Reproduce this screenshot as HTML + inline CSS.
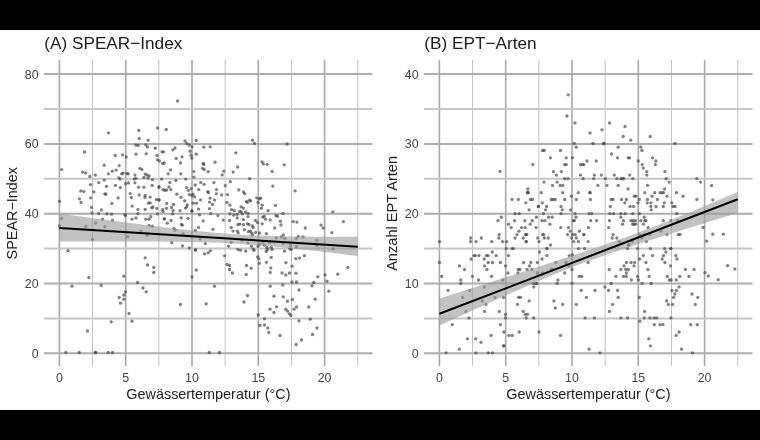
<!DOCTYPE html>
<html><head><meta charset="utf-8"><style>
html,body{margin:0;padding:0;background:#fff;}
svg{display:block;font-family:"Liberation Sans",sans-serif;}
</style></head><body>
<svg width="760" height="440" viewBox="0 0 760 440">
<rect width="760" height="440" fill="#fff"/>
<rect x="0" y="0" width="760" height="30" fill="#000"/>
<rect x="0" y="410" width="760" height="30" fill="#000"/>
<line x1="59.40" y1="60" x2="59.40" y2="366" stroke="#a8a8a8" stroke-width="1.6"/>
<line x1="92.55" y1="60" x2="92.55" y2="366" stroke="#c2c2c2" stroke-width="1.0"/>
<line x1="125.70" y1="60" x2="125.70" y2="366" stroke="#a8a8a8" stroke-width="1.6"/>
<line x1="158.85" y1="60" x2="158.85" y2="366" stroke="#c2c2c2" stroke-width="1.0"/>
<line x1="192.00" y1="60" x2="192.00" y2="366" stroke="#a8a8a8" stroke-width="1.6"/>
<line x1="225.15" y1="60" x2="225.15" y2="366" stroke="#c2c2c2" stroke-width="1.0"/>
<line x1="258.30" y1="60" x2="258.30" y2="366" stroke="#a8a8a8" stroke-width="1.6"/>
<line x1="291.45" y1="60" x2="291.45" y2="366" stroke="#c2c2c2" stroke-width="1.0"/>
<line x1="324.60" y1="60" x2="324.60" y2="366" stroke="#a8a8a8" stroke-width="1.6"/>
<line x1="357.75" y1="60" x2="357.75" y2="366" stroke="#c2c2c2" stroke-width="1.0"/>
<line x1="44" y1="353.30" x2="372.5" y2="353.30" stroke="#adadad" stroke-width="2"/>
<line x1="44" y1="283.50" x2="372.5" y2="283.50" stroke="#adadad" stroke-width="2"/>
<line x1="44" y1="213.70" x2="372.5" y2="213.70" stroke="#adadad" stroke-width="2"/>
<line x1="44" y1="143.90" x2="372.5" y2="143.90" stroke="#adadad" stroke-width="2"/>
<line x1="44" y1="74.10" x2="372.5" y2="74.10" stroke="#adadad" stroke-width="2"/>
<line x1="44" y1="318.40" x2="372.5" y2="318.40" stroke="#c6c6c6" stroke-width="2"/>
<line x1="44" y1="248.60" x2="372.5" y2="248.60" stroke="#c6c6c6" stroke-width="2"/>
<line x1="44" y1="178.80" x2="372.5" y2="178.80" stroke="#c6c6c6" stroke-width="2"/>
<line x1="44" y1="109.00" x2="372.5" y2="109.00" stroke="#c6c6c6" stroke-width="2"/>
<line x1="439.40" y1="60" x2="439.40" y2="366" stroke="#a8a8a8" stroke-width="1.6"/>
<line x1="472.55" y1="60" x2="472.55" y2="366" stroke="#c2c2c2" stroke-width="1.0"/>
<line x1="505.70" y1="60" x2="505.70" y2="366" stroke="#a8a8a8" stroke-width="1.6"/>
<line x1="538.85" y1="60" x2="538.85" y2="366" stroke="#c2c2c2" stroke-width="1.0"/>
<line x1="572.00" y1="60" x2="572.00" y2="366" stroke="#a8a8a8" stroke-width="1.6"/>
<line x1="605.15" y1="60" x2="605.15" y2="366" stroke="#c2c2c2" stroke-width="1.0"/>
<line x1="638.30" y1="60" x2="638.30" y2="366" stroke="#a8a8a8" stroke-width="1.6"/>
<line x1="671.45" y1="60" x2="671.45" y2="366" stroke="#c2c2c2" stroke-width="1.0"/>
<line x1="704.60" y1="60" x2="704.60" y2="366" stroke="#a8a8a8" stroke-width="1.6"/>
<line x1="737.75" y1="60" x2="737.75" y2="366" stroke="#c2c2c2" stroke-width="1.0"/>
<line x1="424" y1="353.30" x2="752.5" y2="353.30" stroke="#adadad" stroke-width="2"/>
<line x1="424" y1="283.50" x2="752.5" y2="283.50" stroke="#adadad" stroke-width="2"/>
<line x1="424" y1="213.70" x2="752.5" y2="213.70" stroke="#adadad" stroke-width="2"/>
<line x1="424" y1="143.90" x2="752.5" y2="143.90" stroke="#adadad" stroke-width="2"/>
<line x1="424" y1="74.10" x2="752.5" y2="74.10" stroke="#adadad" stroke-width="2"/>
<line x1="424" y1="318.40" x2="752.5" y2="318.40" stroke="#c6c6c6" stroke-width="2"/>
<line x1="424" y1="248.60" x2="752.5" y2="248.60" stroke="#c6c6c6" stroke-width="2"/>
<line x1="424" y1="178.80" x2="752.5" y2="178.80" stroke="#c6c6c6" stroke-width="2"/>
<line x1="424" y1="109.00" x2="752.5" y2="109.00" stroke="#c6c6c6" stroke-width="2"/>
<g fill="#454545" fill-opacity="0.68">
<circle cx="61.7" cy="169.6" r="1.65"/>
<circle cx="82.6" cy="172.1" r="1.65"/>
<circle cx="85.7" cy="172.9" r="1.65"/>
<circle cx="89.8" cy="176.4" r="1.65"/>
<circle cx="95.3" cy="175.1" r="1.65"/>
<circle cx="104.2" cy="165.2" r="1.65"/>
<circle cx="119.2" cy="165.6" r="1.65"/>
<circle cx="112.3" cy="171.2" r="1.65"/>
<circle cx="116.2" cy="170.1" r="1.65"/>
<circle cx="108.4" cy="173.8" r="1.65"/>
<circle cx="121.7" cy="173.8" r="1.65"/>
<circle cx="123.0" cy="173.2" r="1.65"/>
<circle cx="127.0" cy="173.6" r="1.65"/>
<circle cx="128.3" cy="173.8" r="1.65"/>
<circle cx="134.9" cy="175.1" r="1.65"/>
<circle cx="118.8" cy="177.8" r="1.65"/>
<circle cx="120.1" cy="179.1" r="1.65"/>
<circle cx="134.2" cy="179.1" r="1.65"/>
<circle cx="135.9" cy="178.4" r="1.65"/>
<circle cx="98.8" cy="182.6" r="1.65"/>
<circle cx="104.2" cy="180.1" r="1.65"/>
<circle cx="90.5" cy="184.6" r="1.65"/>
<circle cx="106.5" cy="186.3" r="1.65"/>
<circle cx="115.4" cy="185.4" r="1.65"/>
<circle cx="120.4" cy="187.6" r="1.65"/>
<circle cx="125.6" cy="183.7" r="1.65"/>
<circle cx="128.5" cy="183.0" r="1.65"/>
<circle cx="134.9" cy="182.8" r="1.65"/>
<circle cx="80.8" cy="190.9" r="1.65"/>
<circle cx="83.9" cy="191.6" r="1.65"/>
<circle cx="93.8" cy="191.9" r="1.65"/>
<circle cx="104.8" cy="193.8" r="1.65"/>
<circle cx="105.9" cy="194.2" r="1.65"/>
<circle cx="130.2" cy="193.6" r="1.65"/>
<circle cx="79.5" cy="198.8" r="1.65"/>
<circle cx="81.1" cy="202.5" r="1.65"/>
<circle cx="90.7" cy="197.8" r="1.65"/>
<circle cx="118.1" cy="197.9" r="1.65"/>
<circle cx="131.3" cy="197.5" r="1.65"/>
<circle cx="59.5" cy="201.2" r="1.65"/>
<circle cx="111.8" cy="203.4" r="1.65"/>
<circle cx="91.4" cy="207.4" r="1.65"/>
<circle cx="101.3" cy="210.0" r="1.65"/>
<circle cx="132.2" cy="206.1" r="1.65"/>
<circle cx="162.6" cy="163.5" r="1.65"/>
<circle cx="164.3" cy="163.0" r="1.65"/>
<circle cx="180.5" cy="163.0" r="1.65"/>
<circle cx="203.2" cy="163.5" r="1.65"/>
<circle cx="203.8" cy="164.3" r="1.65"/>
<circle cx="215.0" cy="162.2" r="1.65"/>
<circle cx="139.9" cy="168.3" r="1.65"/>
<circle cx="141.9" cy="169.6" r="1.65"/>
<circle cx="170.5" cy="169.9" r="1.65"/>
<circle cx="168.2" cy="173.8" r="1.65"/>
<circle cx="180.8" cy="173.8" r="1.65"/>
<circle cx="193.9" cy="171.6" r="1.65"/>
<circle cx="202.5" cy="168.3" r="1.65"/>
<circle cx="204.2" cy="169.6" r="1.65"/>
<circle cx="208.2" cy="171.6" r="1.65"/>
<circle cx="223.8" cy="171.2" r="1.65"/>
<circle cx="222.2" cy="174.9" r="1.65"/>
<circle cx="145.2" cy="174.1" r="1.65"/>
<circle cx="146.9" cy="174.9" r="1.65"/>
<circle cx="149.1" cy="175.8" r="1.65"/>
<circle cx="148.1" cy="178.0" r="1.65"/>
<circle cx="143.9" cy="177.5" r="1.65"/>
<circle cx="152.4" cy="179.7" r="1.65"/>
<circle cx="161.6" cy="179.1" r="1.65"/>
<circle cx="175.9" cy="180.4" r="1.65"/>
<circle cx="185.8" cy="179.1" r="1.65"/>
<circle cx="193.9" cy="177.1" r="1.65"/>
<circle cx="169.9" cy="182.4" r="1.65"/>
<circle cx="200.8" cy="182.4" r="1.65"/>
<circle cx="204.1" cy="184.3" r="1.65"/>
<circle cx="213.9" cy="182.6" r="1.65"/>
<circle cx="195.2" cy="185.0" r="1.65"/>
<circle cx="225.3" cy="185.7" r="1.65"/>
<circle cx="138.6" cy="187.2" r="1.65"/>
<circle cx="143.9" cy="187.2" r="1.65"/>
<circle cx="152.2" cy="185.4" r="1.65"/>
<circle cx="159.0" cy="187.0" r="1.65"/>
<circle cx="163.0" cy="189.6" r="1.65"/>
<circle cx="164.7" cy="190.3" r="1.65"/>
<circle cx="166.5" cy="190.0" r="1.65"/>
<circle cx="170.9" cy="189.6" r="1.65"/>
<circle cx="168.9" cy="187.0" r="1.65"/>
<circle cx="186.7" cy="187.6" r="1.65"/>
<circle cx="188.4" cy="190.3" r="1.65"/>
<circle cx="191.3" cy="188.6" r="1.65"/>
<circle cx="198.8" cy="189.6" r="1.65"/>
<circle cx="207.8" cy="191.6" r="1.65"/>
<circle cx="208.4" cy="192.5" r="1.65"/>
<circle cx="216.6" cy="189.6" r="1.65"/>
<circle cx="139.2" cy="194.9" r="1.65"/>
<circle cx="145.2" cy="195.3" r="1.65"/>
<circle cx="144.9" cy="197.5" r="1.65"/>
<circle cx="150.2" cy="197.1" r="1.65"/>
<circle cx="176.8" cy="194.2" r="1.65"/>
<circle cx="181.0" cy="197.3" r="1.65"/>
<circle cx="189.3" cy="194.6" r="1.65"/>
<circle cx="191.9" cy="195.6" r="1.65"/>
<circle cx="192.9" cy="194.2" r="1.65"/>
<circle cx="194.6" cy="196.9" r="1.65"/>
<circle cx="216.3" cy="193.8" r="1.65"/>
<circle cx="221.6" cy="194.9" r="1.65"/>
<circle cx="227.5" cy="194.6" r="1.65"/>
<circle cx="156.4" cy="199.5" r="1.65"/>
<circle cx="159.0" cy="199.9" r="1.65"/>
<circle cx="184.7" cy="200.8" r="1.65"/>
<circle cx="200.5" cy="199.9" r="1.65"/>
<circle cx="210.1" cy="198.2" r="1.65"/>
<circle cx="214.6" cy="199.9" r="1.65"/>
<circle cx="148.5" cy="203.2" r="1.65"/>
<circle cx="150.2" cy="202.8" r="1.65"/>
<circle cx="166.7" cy="203.4" r="1.65"/>
<circle cx="173.5" cy="204.5" r="1.65"/>
<circle cx="193.3" cy="203.2" r="1.65"/>
<circle cx="196.6" cy="203.2" r="1.65"/>
<circle cx="209.5" cy="202.1" r="1.65"/>
<circle cx="212.4" cy="204.4" r="1.65"/>
<circle cx="226.9" cy="202.5" r="1.65"/>
<circle cx="151.8" cy="207.8" r="1.65"/>
<circle cx="152.8" cy="207.0" r="1.65"/>
<circle cx="137.9" cy="209.4" r="1.65"/>
<circle cx="145.2" cy="209.4" r="1.65"/>
<circle cx="156.8" cy="208.5" r="1.65"/>
<circle cx="162.6" cy="209.4" r="1.65"/>
<circle cx="163.0" cy="211.4" r="1.65"/>
<circle cx="166.5" cy="208.3" r="1.65"/>
<circle cx="171.5" cy="207.4" r="1.65"/>
<circle cx="173.1" cy="210.7" r="1.65"/>
<circle cx="180.1" cy="210.7" r="1.65"/>
<circle cx="185.4" cy="208.1" r="1.65"/>
<circle cx="186.7" cy="206.8" r="1.65"/>
<circle cx="187.3" cy="204.8" r="1.65"/>
<circle cx="191.9" cy="211.0" r="1.65"/>
<circle cx="198.5" cy="209.1" r="1.65"/>
<circle cx="209.5" cy="208.7" r="1.65"/>
<circle cx="92.0" cy="213.0" r="1.65"/>
<circle cx="98.6" cy="213.5" r="1.65"/>
<circle cx="106.9" cy="213.9" r="1.65"/>
<circle cx="111.5" cy="214.2" r="1.65"/>
<circle cx="125.0" cy="214.6" r="1.65"/>
<circle cx="125.4" cy="215.6" r="1.65"/>
<circle cx="61.7" cy="218.3" r="1.65"/>
<circle cx="102.6" cy="219.2" r="1.65"/>
<circle cx="112.5" cy="220.1" r="1.65"/>
<circle cx="95.7" cy="222.9" r="1.65"/>
<circle cx="85.8" cy="226.4" r="1.65"/>
<circle cx="104.8" cy="226.7" r="1.65"/>
<circle cx="59.5" cy="225.8" r="1.65"/>
<circle cx="132.0" cy="219.2" r="1.65"/>
<circle cx="135.9" cy="217.9" r="1.65"/>
<circle cx="92.4" cy="239.4" r="1.65"/>
<circle cx="127.6" cy="236.7" r="1.65"/>
<circle cx="68.1" cy="250.6" r="1.65"/>
<circle cx="137.9" cy="213.7" r="1.65"/>
<circle cx="157.4" cy="213.9" r="1.65"/>
<circle cx="172.6" cy="213.9" r="1.65"/>
<circle cx="199.5" cy="214.8" r="1.65"/>
<circle cx="210.7" cy="213.7" r="1.65"/>
<circle cx="217.9" cy="215.6" r="1.65"/>
<circle cx="145.8" cy="219.2" r="1.65"/>
<circle cx="148.9" cy="219.2" r="1.65"/>
<circle cx="150.8" cy="216.6" r="1.65"/>
<circle cx="164.3" cy="218.8" r="1.65"/>
<circle cx="171.0" cy="220.5" r="1.65"/>
<circle cx="167.3" cy="223.2" r="1.65"/>
<circle cx="181.1" cy="217.9" r="1.65"/>
<circle cx="188.0" cy="218.3" r="1.65"/>
<circle cx="203.2" cy="220.9" r="1.65"/>
<circle cx="223.3" cy="220.1" r="1.65"/>
<circle cx="149.1" cy="225.4" r="1.65"/>
<circle cx="152.4" cy="226.2" r="1.65"/>
<circle cx="181.4" cy="224.5" r="1.65"/>
<circle cx="182.3" cy="225.1" r="1.65"/>
<circle cx="198.5" cy="227.4" r="1.65"/>
<circle cx="213.0" cy="229.3" r="1.65"/>
<circle cx="173.9" cy="228.4" r="1.65"/>
<circle cx="175.2" cy="230.1" r="1.65"/>
<circle cx="141.0" cy="231.1" r="1.65"/>
<circle cx="147.2" cy="235.4" r="1.65"/>
<circle cx="183.1" cy="233.7" r="1.65"/>
<circle cx="195.2" cy="230.4" r="1.65"/>
<circle cx="200.2" cy="239.0" r="1.65"/>
<circle cx="171.8" cy="242.7" r="1.65"/>
<circle cx="182.5" cy="245.9" r="1.65"/>
<circle cx="189.3" cy="247.9" r="1.65"/>
<circle cx="195.5" cy="249.9" r="1.65"/>
<circle cx="205.4" cy="243.6" r="1.65"/>
<circle cx="204.5" cy="253.8" r="1.65"/>
<circle cx="208.2" cy="252.8" r="1.65"/>
<circle cx="210.4" cy="250.8" r="1.65"/>
<circle cx="224.6" cy="255.8" r="1.65"/>
<circle cx="145.2" cy="257.8" r="1.65"/>
<circle cx="263.3" cy="163.9" r="1.65"/>
<circle cx="267.1" cy="164.3" r="1.65"/>
<circle cx="284.2" cy="164.8" r="1.65"/>
<circle cx="237.6" cy="167.0" r="1.65"/>
<circle cx="233.2" cy="172.1" r="1.65"/>
<circle cx="272.2" cy="171.4" r="1.65"/>
<circle cx="249.7" cy="178.7" r="1.65"/>
<circle cx="230.3" cy="181.7" r="1.65"/>
<circle cx="272.8" cy="186.1" r="1.65"/>
<circle cx="295.1" cy="190.9" r="1.65"/>
<circle cx="238.8" cy="189.9" r="1.65"/>
<circle cx="243.5" cy="192.0" r="1.65"/>
<circle cx="244.7" cy="193.6" r="1.65"/>
<circle cx="256.7" cy="197.8" r="1.65"/>
<circle cx="259.3" cy="198.8" r="1.65"/>
<circle cx="260.6" cy="198.2" r="1.65"/>
<circle cx="258.0" cy="202.5" r="1.65"/>
<circle cx="246.4" cy="201.5" r="1.65"/>
<circle cx="247.4" cy="202.3" r="1.65"/>
<circle cx="249.7" cy="200.2" r="1.65"/>
<circle cx="250.6" cy="200.8" r="1.65"/>
<circle cx="229.9" cy="205.2" r="1.65"/>
<circle cx="262.2" cy="205.2" r="1.65"/>
<circle cx="261.3" cy="208.3" r="1.65"/>
<circle cx="275.4" cy="205.4" r="1.65"/>
<circle cx="241.1" cy="206.8" r="1.65"/>
<circle cx="243.5" cy="208.1" r="1.65"/>
<circle cx="231.6" cy="209.7" r="1.65"/>
<circle cx="234.3" cy="210.7" r="1.65"/>
<circle cx="239.6" cy="211.4" r="1.65"/>
<circle cx="241.1" cy="211.8" r="1.65"/>
<circle cx="245.5" cy="211.8" r="1.65"/>
<circle cx="268.1" cy="210.7" r="1.65"/>
<circle cx="332.9" cy="211.8" r="1.65"/>
<circle cx="229.9" cy="213.9" r="1.65"/>
<circle cx="233.9" cy="215.2" r="1.65"/>
<circle cx="237.2" cy="214.3" r="1.65"/>
<circle cx="242.4" cy="213.9" r="1.65"/>
<circle cx="248.1" cy="213.3" r="1.65"/>
<circle cx="283.0" cy="213.5" r="1.65"/>
<circle cx="237.2" cy="217.9" r="1.65"/>
<circle cx="248.0" cy="216.6" r="1.65"/>
<circle cx="262.9" cy="217.2" r="1.65"/>
<circle cx="264.2" cy="216.2" r="1.65"/>
<circle cx="265.5" cy="219.2" r="1.65"/>
<circle cx="270.1" cy="219.9" r="1.65"/>
<circle cx="276.0" cy="215.6" r="1.65"/>
<circle cx="277.4" cy="216.2" r="1.65"/>
<circle cx="229.5" cy="220.5" r="1.65"/>
<circle cx="243.5" cy="219.6" r="1.65"/>
<circle cx="255.4" cy="220.5" r="1.65"/>
<circle cx="257.6" cy="222.5" r="1.65"/>
<circle cx="280.4" cy="221.2" r="1.65"/>
<circle cx="280.9" cy="224.9" r="1.65"/>
<circle cx="293.2" cy="221.6" r="1.65"/>
<circle cx="296.9" cy="222.1" r="1.65"/>
<circle cx="237.8" cy="224.5" r="1.65"/>
<circle cx="239.8" cy="224.2" r="1.65"/>
<circle cx="243.5" cy="224.7" r="1.65"/>
<circle cx="247.4" cy="223.8" r="1.65"/>
<circle cx="249.0" cy="224.5" r="1.65"/>
<circle cx="252.3" cy="225.8" r="1.65"/>
<circle cx="253.2" cy="227.5" r="1.65"/>
<circle cx="262.2" cy="223.8" r="1.65"/>
<circle cx="274.7" cy="228.0" r="1.65"/>
<circle cx="305.3" cy="228.0" r="1.65"/>
<circle cx="231.2" cy="227.5" r="1.65"/>
<circle cx="233.0" cy="231.1" r="1.65"/>
<circle cx="237.2" cy="231.1" r="1.65"/>
<circle cx="238.2" cy="232.8" r="1.65"/>
<circle cx="244.4" cy="229.7" r="1.65"/>
<circle cx="248.4" cy="231.7" r="1.65"/>
<circle cx="250.3" cy="231.1" r="1.65"/>
<circle cx="251.7" cy="233.0" r="1.65"/>
<circle cx="252.3" cy="235.0" r="1.65"/>
<circle cx="255.6" cy="232.4" r="1.65"/>
<circle cx="259.6" cy="233.0" r="1.65"/>
<circle cx="266.4" cy="233.7" r="1.65"/>
<circle cx="283.3" cy="235.0" r="1.65"/>
<circle cx="281.3" cy="237.0" r="1.65"/>
<circle cx="284.9" cy="238.6" r="1.65"/>
<circle cx="276.4" cy="238.0" r="1.65"/>
<circle cx="296.2" cy="238.6" r="1.65"/>
<circle cx="298.4" cy="236.3" r="1.65"/>
<circle cx="303.1" cy="237.0" r="1.65"/>
<circle cx="241.8" cy="240.3" r="1.65"/>
<circle cx="231.2" cy="242.3" r="1.65"/>
<circle cx="248.0" cy="242.9" r="1.65"/>
<circle cx="262.9" cy="242.0" r="1.65"/>
<circle cx="264.2" cy="245.2" r="1.65"/>
<circle cx="269.4" cy="242.5" r="1.65"/>
<circle cx="259.6" cy="244.2" r="1.65"/>
<circle cx="258.0" cy="246.2" r="1.65"/>
<circle cx="283.0" cy="243.3" r="1.65"/>
<circle cx="290.5" cy="245.6" r="1.65"/>
<circle cx="296.5" cy="246.5" r="1.65"/>
<circle cx="316.9" cy="240.3" r="1.65"/>
<circle cx="316.9" cy="245.6" r="1.65"/>
<circle cx="228.6" cy="246.2" r="1.65"/>
<circle cx="237.8" cy="249.5" r="1.65"/>
<circle cx="240.5" cy="250.2" r="1.65"/>
<circle cx="245.7" cy="251.2" r="1.65"/>
<circle cx="251.4" cy="246.2" r="1.65"/>
<circle cx="253.2" cy="249.1" r="1.65"/>
<circle cx="254.0" cy="250.4" r="1.65"/>
<circle cx="266.8" cy="247.5" r="1.65"/>
<circle cx="267.5" cy="249.5" r="1.65"/>
<circle cx="271.2" cy="247.3" r="1.65"/>
<circle cx="272.1" cy="249.5" r="1.65"/>
<circle cx="266.2" cy="251.5" r="1.65"/>
<circle cx="284.6" cy="251.2" r="1.65"/>
<circle cx="289.9" cy="248.8" r="1.65"/>
<circle cx="291.2" cy="249.5" r="1.65"/>
<circle cx="257.6" cy="256.8" r="1.65"/>
<circle cx="258.9" cy="258.7" r="1.65"/>
<circle cx="271.2" cy="257.4" r="1.65"/>
<circle cx="295.8" cy="258.7" r="1.65"/>
<circle cx="299.5" cy="258.1" r="1.65"/>
<circle cx="304.4" cy="255.7" r="1.65"/>
<circle cx="259.3" cy="263.3" r="1.65"/>
<circle cx="266.4" cy="262.3" r="1.65"/>
<circle cx="285.9" cy="262.7" r="1.65"/>
<circle cx="343.4" cy="221.6" r="1.65"/>
<circle cx="321.0" cy="225.1" r="1.65"/>
<circle cx="323.2" cy="228.0" r="1.65"/>
<circle cx="331.8" cy="232.6" r="1.65"/>
<circle cx="332.9" cy="248.8" r="1.65"/>
<circle cx="177.5" cy="101.0" r="1.65"/>
<circle cx="108.5" cy="132.8" r="1.65"/>
<circle cx="138.8" cy="130.5" r="1.65"/>
<circle cx="157.5" cy="128.0" r="1.65"/>
<circle cx="166.2" cy="129.5" r="1.65"/>
<circle cx="139.2" cy="138.5" r="1.65"/>
<circle cx="148.2" cy="140.2" r="1.65"/>
<circle cx="185.0" cy="141.0" r="1.65"/>
<circle cx="196.2" cy="140.5" r="1.65"/>
<circle cx="186.8" cy="143.5" r="1.65"/>
<circle cx="189.2" cy="145.0" r="1.65"/>
<circle cx="135.8" cy="145.0" r="1.65"/>
<circle cx="138.2" cy="145.5" r="1.65"/>
<circle cx="145.8" cy="144.8" r="1.65"/>
<circle cx="147.5" cy="147.0" r="1.65"/>
<circle cx="155.2" cy="148.2" r="1.65"/>
<circle cx="162.0" cy="151.8" r="1.65"/>
<circle cx="163.5" cy="151.8" r="1.65"/>
<circle cx="172.8" cy="149.8" r="1.65"/>
<circle cx="175.0" cy="148.0" r="1.65"/>
<circle cx="192.0" cy="146.8" r="1.65"/>
<circle cx="203.8" cy="147.2" r="1.65"/>
<circle cx="210.2" cy="146.8" r="1.65"/>
<circle cx="84.5" cy="152.0" r="1.65"/>
<circle cx="115.2" cy="155.5" r="1.65"/>
<circle cx="122.5" cy="154.8" r="1.65"/>
<circle cx="126.2" cy="157.0" r="1.65"/>
<circle cx="136.0" cy="154.2" r="1.65"/>
<circle cx="146.2" cy="153.8" r="1.65"/>
<circle cx="157.0" cy="155.5" r="1.65"/>
<circle cx="157.5" cy="159.8" r="1.65"/>
<circle cx="159.5" cy="161.0" r="1.65"/>
<circle cx="176.2" cy="158.5" r="1.65"/>
<circle cx="182.0" cy="156.8" r="1.65"/>
<circle cx="190.0" cy="151.2" r="1.65"/>
<circle cx="191.0" cy="155.2" r="1.65"/>
<circle cx="191.8" cy="158.0" r="1.65"/>
<circle cx="196.2" cy="154.2" r="1.65"/>
<circle cx="252.5" cy="140.2" r="1.65"/>
<circle cx="254.5" cy="143.5" r="1.65"/>
<circle cx="287.0" cy="144.0" r="1.65"/>
<circle cx="235.8" cy="152.8" r="1.65"/>
<circle cx="262.0" cy="161.8" r="1.65"/>
<circle cx="147.5" cy="265.0" r="1.65"/>
<circle cx="153.8" cy="267.5" r="1.65"/>
<circle cx="153.8" cy="272.5" r="1.65"/>
<circle cx="196.2" cy="270.0" r="1.65"/>
<circle cx="192.0" cy="276.8" r="1.65"/>
<circle cx="88.8" cy="277.5" r="1.65"/>
<circle cx="123.8" cy="276.2" r="1.65"/>
<circle cx="72.0" cy="286.2" r="1.65"/>
<circle cx="101.2" cy="285.5" r="1.65"/>
<circle cx="137.5" cy="282.5" r="1.65"/>
<circle cx="143.0" cy="288.0" r="1.65"/>
<circle cx="146.2" cy="291.8" r="1.65"/>
<circle cx="125.5" cy="291.8" r="1.65"/>
<circle cx="123.8" cy="295.0" r="1.65"/>
<circle cx="119.2" cy="297.5" r="1.65"/>
<circle cx="123.8" cy="299.2" r="1.65"/>
<circle cx="120.5" cy="303.2" r="1.65"/>
<circle cx="214.5" cy="286.2" r="1.65"/>
<circle cx="180.5" cy="304.5" r="1.65"/>
<circle cx="206.2" cy="303.8" r="1.65"/>
<circle cx="129.0" cy="313.5" r="1.65"/>
<circle cx="132.0" cy="321.2" r="1.65"/>
<circle cx="111.2" cy="321.8" r="1.65"/>
<circle cx="87.5" cy="331.0" r="1.65"/>
<circle cx="65.8" cy="352.5" r="1.65"/>
<circle cx="79.2" cy="352.5" r="1.65"/>
<circle cx="95.5" cy="352.5" r="1.65"/>
<circle cx="108.2" cy="352.5" r="1.65"/>
<circle cx="112.5" cy="352.5" r="1.65"/>
<circle cx="209.2" cy="352.5" r="1.65"/>
<circle cx="219.5" cy="352.5" r="1.65"/>
<circle cx="227.0" cy="264.5" r="1.65"/>
<circle cx="229.5" cy="265.5" r="1.65"/>
<circle cx="229.5" cy="269.5" r="1.65"/>
<circle cx="232.5" cy="273.0" r="1.65"/>
<circle cx="246.5" cy="265.5" r="1.65"/>
<circle cx="251.2" cy="268.2" r="1.65"/>
<circle cx="246.2" cy="274.5" r="1.65"/>
<circle cx="270.8" cy="268.0" r="1.65"/>
<circle cx="270.2" cy="272.5" r="1.65"/>
<circle cx="292.0" cy="266.2" r="1.65"/>
<circle cx="282.0" cy="273.0" r="1.65"/>
<circle cx="285.8" cy="275.0" r="1.65"/>
<circle cx="289.5" cy="273.0" r="1.65"/>
<circle cx="296.0" cy="273.2" r="1.65"/>
<circle cx="317.8" cy="276.8" r="1.65"/>
<circle cx="325.0" cy="275.0" r="1.65"/>
<circle cx="337.8" cy="274.2" r="1.65"/>
<circle cx="347.8" cy="267.5" r="1.65"/>
<circle cx="292.0" cy="282.0" r="1.65"/>
<circle cx="296.5" cy="282.0" r="1.65"/>
<circle cx="313.8" cy="282.5" r="1.65"/>
<circle cx="327.0" cy="281.2" r="1.65"/>
<circle cx="270.2" cy="286.2" r="1.65"/>
<circle cx="282.8" cy="285.0" r="1.65"/>
<circle cx="312.0" cy="285.8" r="1.65"/>
<circle cx="299.0" cy="290.0" r="1.65"/>
<circle cx="328.8" cy="291.2" r="1.65"/>
<circle cx="247.5" cy="295.5" r="1.65"/>
<circle cx="244.0" cy="302.0" r="1.65"/>
<circle cx="274.0" cy="296.2" r="1.65"/>
<circle cx="283.2" cy="296.8" r="1.65"/>
<circle cx="287.5" cy="301.2" r="1.65"/>
<circle cx="292.5" cy="299.5" r="1.65"/>
<circle cx="315.2" cy="299.2" r="1.65"/>
<circle cx="276.5" cy="306.8" r="1.65"/>
<circle cx="270.0" cy="309.2" r="1.65"/>
<circle cx="274.0" cy="312.5" r="1.65"/>
<circle cx="285.8" cy="309.2" r="1.65"/>
<circle cx="287.5" cy="311.2" r="1.65"/>
<circle cx="289.5" cy="313.8" r="1.65"/>
<circle cx="290.8" cy="315.5" r="1.65"/>
<circle cx="294.0" cy="309.2" r="1.65"/>
<circle cx="296.5" cy="307.0" r="1.65"/>
<circle cx="308.8" cy="307.0" r="1.65"/>
<circle cx="258.2" cy="315.0" r="1.65"/>
<circle cx="264.5" cy="318.8" r="1.65"/>
<circle cx="260.0" cy="325.5" r="1.65"/>
<circle cx="264.5" cy="325.0" r="1.65"/>
<circle cx="267.8" cy="328.0" r="1.65"/>
<circle cx="268.8" cy="332.5" r="1.65"/>
<circle cx="299.0" cy="320.8" r="1.65"/>
<circle cx="310.2" cy="319.2" r="1.65"/>
<circle cx="317.0" cy="328.0" r="1.65"/>
<circle cx="312.5" cy="334.5" r="1.65"/>
<circle cx="280.0" cy="335.5" r="1.65"/>
<circle cx="301.5" cy="340.0" r="1.65"/>
<circle cx="296.2" cy="344.5" r="1.65"/>
<circle cx="500.0" cy="171.4" r="1.65"/>
<circle cx="512.0" cy="199.5" r="1.65"/>
<circle cx="532.8" cy="164.6" r="1.65"/>
<circle cx="564.7" cy="164.6" r="1.65"/>
<circle cx="566.3" cy="164.6" r="1.65"/>
<circle cx="580.5" cy="164.6" r="1.65"/>
<circle cx="582.5" cy="164.6" r="1.65"/>
<circle cx="583.8" cy="164.6" r="1.65"/>
<circle cx="553.5" cy="171.6" r="1.65"/>
<circle cx="561.4" cy="171.6" r="1.65"/>
<circle cx="556.4" cy="175.1" r="1.65"/>
<circle cx="580.5" cy="175.1" r="1.65"/>
<circle cx="594.4" cy="175.1" r="1.65"/>
<circle cx="601.3" cy="175.1" r="1.65"/>
<circle cx="564.7" cy="178.7" r="1.65"/>
<circle cx="568.0" cy="178.7" r="1.65"/>
<circle cx="583.1" cy="178.7" r="1.65"/>
<circle cx="593.7" cy="178.7" r="1.65"/>
<circle cx="605.3" cy="178.7" r="1.65"/>
<circle cx="544.0" cy="182.1" r="1.65"/>
<circle cx="557.1" cy="182.1" r="1.65"/>
<circle cx="552.6" cy="185.4" r="1.65"/>
<circle cx="560.1" cy="185.4" r="1.65"/>
<circle cx="562.7" cy="185.4" r="1.65"/>
<circle cx="597.9" cy="185.4" r="1.65"/>
<circle cx="606.9" cy="185.4" r="1.65"/>
<circle cx="527.8" cy="189.0" r="1.65"/>
<circle cx="527.5" cy="192.7" r="1.65"/>
<circle cx="528.5" cy="192.7" r="1.65"/>
<circle cx="541.2" cy="192.7" r="1.65"/>
<circle cx="562.7" cy="192.7" r="1.65"/>
<circle cx="578.3" cy="192.7" r="1.65"/>
<circle cx="590.0" cy="192.7" r="1.65"/>
<circle cx="571.3" cy="196.2" r="1.65"/>
<circle cx="518.3" cy="199.5" r="1.65"/>
<circle cx="530.5" cy="199.5" r="1.65"/>
<circle cx="532.4" cy="199.5" r="1.65"/>
<circle cx="551.3" cy="199.5" r="1.65"/>
<circle cx="552.8" cy="199.5" r="1.65"/>
<circle cx="555.2" cy="199.5" r="1.65"/>
<circle cx="564.7" cy="199.5" r="1.65"/>
<circle cx="576.3" cy="199.5" r="1.65"/>
<circle cx="590.4" cy="199.5" r="1.65"/>
<circle cx="525.8" cy="202.8" r="1.65"/>
<circle cx="542.3" cy="202.8" r="1.65"/>
<circle cx="538.4" cy="206.5" r="1.65"/>
<circle cx="546.5" cy="206.5" r="1.65"/>
<circle cx="561.0" cy="206.5" r="1.65"/>
<circle cx="529.1" cy="209.8" r="1.65"/>
<circle cx="545.6" cy="209.8" r="1.65"/>
<circle cx="562.3" cy="209.8" r="1.65"/>
<circle cx="570.6" cy="209.8" r="1.65"/>
<circle cx="642.2" cy="164.6" r="1.65"/>
<circle cx="655.4" cy="164.6" r="1.65"/>
<circle cx="643.3" cy="168.1" r="1.65"/>
<circle cx="646.8" cy="171.6" r="1.65"/>
<circle cx="664.9" cy="171.6" r="1.65"/>
<circle cx="614.3" cy="175.1" r="1.65"/>
<circle cx="629.7" cy="175.1" r="1.65"/>
<circle cx="646.8" cy="175.1" r="1.65"/>
<circle cx="616.9" cy="178.7" r="1.65"/>
<circle cx="620.9" cy="178.7" r="1.65"/>
<circle cx="622.5" cy="178.7" r="1.65"/>
<circle cx="623.8" cy="178.7" r="1.65"/>
<circle cx="632.7" cy="178.7" r="1.65"/>
<circle cx="666.2" cy="178.7" r="1.65"/>
<circle cx="696.9" cy="178.7" r="1.65"/>
<circle cx="669.2" cy="182.1" r="1.65"/>
<circle cx="618.2" cy="185.4" r="1.65"/>
<circle cx="647.5" cy="185.4" r="1.65"/>
<circle cx="628.1" cy="189.0" r="1.65"/>
<circle cx="664.6" cy="189.0" r="1.65"/>
<circle cx="644.8" cy="192.7" r="1.65"/>
<circle cx="654.7" cy="192.7" r="1.65"/>
<circle cx="660.0" cy="192.7" r="1.65"/>
<circle cx="662.0" cy="192.7" r="1.65"/>
<circle cx="663.5" cy="192.7" r="1.65"/>
<circle cx="676.5" cy="192.7" r="1.65"/>
<circle cx="634.3" cy="196.2" r="1.65"/>
<circle cx="635.9" cy="196.2" r="1.65"/>
<circle cx="652.1" cy="196.2" r="1.65"/>
<circle cx="667.0" cy="196.2" r="1.65"/>
<circle cx="683.0" cy="196.2" r="1.65"/>
<circle cx="611.2" cy="199.5" r="1.65"/>
<circle cx="613.0" cy="199.5" r="1.65"/>
<circle cx="621.5" cy="199.5" r="1.65"/>
<circle cx="626.4" cy="199.5" r="1.65"/>
<circle cx="639.3" cy="199.5" r="1.65"/>
<circle cx="647.5" cy="199.5" r="1.65"/>
<circle cx="657.4" cy="199.5" r="1.65"/>
<circle cx="696.9" cy="199.5" r="1.65"/>
<circle cx="624.8" cy="202.8" r="1.65"/>
<circle cx="638.0" cy="202.8" r="1.65"/>
<circle cx="647.2" cy="202.8" r="1.65"/>
<circle cx="650.8" cy="202.8" r="1.65"/>
<circle cx="664.3" cy="202.8" r="1.65"/>
<circle cx="671.9" cy="202.8" r="1.65"/>
<circle cx="610.3" cy="206.5" r="1.65"/>
<circle cx="630.1" cy="206.5" r="1.65"/>
<circle cx="633.6" cy="206.5" r="1.65"/>
<circle cx="650.8" cy="206.5" r="1.65"/>
<circle cx="656.0" cy="206.5" r="1.65"/>
<circle cx="663.3" cy="206.5" r="1.65"/>
<circle cx="673.2" cy="206.5" r="1.65"/>
<circle cx="675.1" cy="206.5" r="1.65"/>
<circle cx="651.2" cy="209.8" r="1.65"/>
<circle cx="700.5" cy="182.1" r="1.65"/>
<circle cx="711.6" cy="185.5" r="1.65"/>
<circle cx="712.8" cy="199.8" r="1.65"/>
<circle cx="703.0" cy="227.5" r="1.65"/>
<circle cx="712.8" cy="234.2" r="1.65"/>
<circle cx="723.4" cy="234.2" r="1.65"/>
<circle cx="706.7" cy="241.1" r="1.65"/>
<circle cx="515.1" cy="213.7" r="1.65"/>
<circle cx="501.3" cy="217.2" r="1.65"/>
<circle cx="498.0" cy="220.7" r="1.65"/>
<circle cx="514.6" cy="220.7" r="1.65"/>
<circle cx="508.5" cy="224.2" r="1.65"/>
<circle cx="511.2" cy="227.6" r="1.65"/>
<circle cx="499.1" cy="234.6" r="1.65"/>
<circle cx="470.7" cy="238.0" r="1.65"/>
<circle cx="481.3" cy="238.0" r="1.65"/>
<circle cx="498.8" cy="238.0" r="1.65"/>
<circle cx="515.1" cy="238.0" r="1.65"/>
<circle cx="439.5" cy="241.6" r="1.65"/>
<circle cx="470.7" cy="241.6" r="1.65"/>
<circle cx="476.0" cy="241.6" r="1.65"/>
<circle cx="491.8" cy="241.6" r="1.65"/>
<circle cx="502.6" cy="241.6" r="1.65"/>
<circle cx="506.7" cy="241.6" r="1.65"/>
<circle cx="506.3" cy="248.6" r="1.65"/>
<circle cx="512.0" cy="248.6" r="1.65"/>
<circle cx="513.3" cy="248.6" r="1.65"/>
<circle cx="492.2" cy="252.0" r="1.65"/>
<circle cx="474.0" cy="255.6" r="1.65"/>
<circle cx="475.3" cy="255.6" r="1.65"/>
<circle cx="478.9" cy="255.6" r="1.65"/>
<circle cx="486.5" cy="255.6" r="1.65"/>
<circle cx="488.1" cy="255.6" r="1.65"/>
<circle cx="496.1" cy="255.6" r="1.65"/>
<circle cx="508.5" cy="255.6" r="1.65"/>
<circle cx="471.1" cy="259.0" r="1.65"/>
<circle cx="484.2" cy="259.0" r="1.65"/>
<circle cx="519.2" cy="213.7" r="1.65"/>
<circle cx="543.4" cy="213.7" r="1.65"/>
<circle cx="561.0" cy="213.7" r="1.65"/>
<circle cx="575.0" cy="213.7" r="1.65"/>
<circle cx="589.1" cy="213.7" r="1.65"/>
<circle cx="591.7" cy="213.7" r="1.65"/>
<circle cx="536.4" cy="217.2" r="1.65"/>
<circle cx="548.6" cy="217.2" r="1.65"/>
<circle cx="552.2" cy="217.2" r="1.65"/>
<circle cx="575.9" cy="217.2" r="1.65"/>
<circle cx="524.8" cy="220.7" r="1.65"/>
<circle cx="532.2" cy="220.7" r="1.65"/>
<circle cx="542.0" cy="220.7" r="1.65"/>
<circle cx="544.9" cy="220.7" r="1.65"/>
<circle cx="573.3" cy="220.7" r="1.65"/>
<circle cx="574.3" cy="220.7" r="1.65"/>
<circle cx="590.8" cy="220.7" r="1.65"/>
<circle cx="596.6" cy="220.7" r="1.65"/>
<circle cx="530.2" cy="224.2" r="1.65"/>
<circle cx="549.9" cy="224.2" r="1.65"/>
<circle cx="521.6" cy="227.6" r="1.65"/>
<circle cx="525.2" cy="227.6" r="1.65"/>
<circle cx="536.1" cy="227.6" r="1.65"/>
<circle cx="560.8" cy="227.6" r="1.65"/>
<circle cx="568.4" cy="227.6" r="1.65"/>
<circle cx="588.4" cy="227.6" r="1.65"/>
<circle cx="518.9" cy="231.2" r="1.65"/>
<circle cx="570.2" cy="231.2" r="1.65"/>
<circle cx="579.5" cy="231.2" r="1.65"/>
<circle cx="517.0" cy="234.6" r="1.65"/>
<circle cx="525.8" cy="234.6" r="1.65"/>
<circle cx="526.8" cy="234.6" r="1.65"/>
<circle cx="542.6" cy="234.6" r="1.65"/>
<circle cx="543.6" cy="234.6" r="1.65"/>
<circle cx="567.6" cy="234.6" r="1.65"/>
<circle cx="572.6" cy="234.6" r="1.65"/>
<circle cx="575.2" cy="234.6" r="1.65"/>
<circle cx="583.8" cy="234.6" r="1.65"/>
<circle cx="523.2" cy="238.0" r="1.65"/>
<circle cx="537.7" cy="238.0" r="1.65"/>
<circle cx="544.3" cy="238.0" r="1.65"/>
<circle cx="548.2" cy="238.0" r="1.65"/>
<circle cx="571.5" cy="238.0" r="1.65"/>
<circle cx="576.3" cy="238.0" r="1.65"/>
<circle cx="526.2" cy="241.6" r="1.65"/>
<circle cx="539.0" cy="241.6" r="1.65"/>
<circle cx="573.7" cy="241.6" r="1.65"/>
<circle cx="578.5" cy="241.6" r="1.65"/>
<circle cx="588.1" cy="241.6" r="1.65"/>
<circle cx="550.5" cy="245.0" r="1.65"/>
<circle cx="546.9" cy="248.6" r="1.65"/>
<circle cx="578.5" cy="248.6" r="1.65"/>
<circle cx="584.5" cy="248.6" r="1.65"/>
<circle cx="539.4" cy="252.0" r="1.65"/>
<circle cx="546.9" cy="255.6" r="1.65"/>
<circle cx="569.3" cy="255.6" r="1.65"/>
<circle cx="572.6" cy="254.9" r="1.65"/>
<circle cx="542.0" cy="259.0" r="1.65"/>
<circle cx="609.9" cy="213.7" r="1.65"/>
<circle cx="613.6" cy="213.7" r="1.65"/>
<circle cx="620.9" cy="213.7" r="1.65"/>
<circle cx="625.1" cy="213.7" r="1.65"/>
<circle cx="632.7" cy="213.7" r="1.65"/>
<circle cx="639.3" cy="213.7" r="1.65"/>
<circle cx="676.7" cy="213.7" r="1.65"/>
<circle cx="620.9" cy="217.2" r="1.65"/>
<circle cx="644.2" cy="217.2" r="1.65"/>
<circle cx="609.5" cy="220.7" r="1.65"/>
<circle cx="623.5" cy="220.7" r="1.65"/>
<circle cx="631.0" cy="220.7" r="1.65"/>
<circle cx="633.0" cy="220.7" r="1.65"/>
<circle cx="635.4" cy="220.7" r="1.65"/>
<circle cx="640.9" cy="220.7" r="1.65"/>
<circle cx="644.8" cy="220.7" r="1.65"/>
<circle cx="645.9" cy="220.7" r="1.65"/>
<circle cx="663.3" cy="220.7" r="1.65"/>
<circle cx="670.9" cy="220.7" r="1.65"/>
<circle cx="677.8" cy="220.7" r="1.65"/>
<circle cx="622.5" cy="224.2" r="1.65"/>
<circle cx="632.7" cy="224.2" r="1.65"/>
<circle cx="634.0" cy="224.2" r="1.65"/>
<circle cx="635.6" cy="224.2" r="1.65"/>
<circle cx="643.3" cy="224.2" r="1.65"/>
<circle cx="608.6" cy="227.6" r="1.65"/>
<circle cx="648.1" cy="227.6" r="1.65"/>
<circle cx="660.9" cy="231.2" r="1.65"/>
<circle cx="613.2" cy="234.6" r="1.65"/>
<circle cx="639.6" cy="234.6" r="1.65"/>
<circle cx="644.2" cy="234.6" r="1.65"/>
<circle cx="649.9" cy="234.6" r="1.65"/>
<circle cx="667.0" cy="234.6" r="1.65"/>
<circle cx="678.4" cy="234.6" r="1.65"/>
<circle cx="680.1" cy="234.6" r="1.65"/>
<circle cx="612.2" cy="238.0" r="1.65"/>
<circle cx="616.8" cy="238.0" r="1.65"/>
<circle cx="641.9" cy="238.0" r="1.65"/>
<circle cx="619.5" cy="241.6" r="1.65"/>
<circle cx="632.3" cy="241.6" r="1.65"/>
<circle cx="646.4" cy="241.6" r="1.65"/>
<circle cx="628.8" cy="245.0" r="1.65"/>
<circle cx="627.5" cy="248.6" r="1.65"/>
<circle cx="637.6" cy="248.6" r="1.65"/>
<circle cx="650.4" cy="248.6" r="1.65"/>
<circle cx="664.6" cy="248.6" r="1.65"/>
<circle cx="670.9" cy="248.6" r="1.65"/>
<circle cx="665.9" cy="252.0" r="1.65"/>
<circle cx="643.3" cy="255.6" r="1.65"/>
<circle cx="652.5" cy="255.6" r="1.65"/>
<circle cx="663.5" cy="255.6" r="1.65"/>
<circle cx="675.8" cy="255.6" r="1.65"/>
<circle cx="639.6" cy="259.0" r="1.65"/>
<circle cx="662.2" cy="259.0" r="1.65"/>
<circle cx="676.9" cy="259.0" r="1.65"/>
<circle cx="439.5" cy="262.5" r="1.65"/>
<circle cx="488.2" cy="262.5" r="1.65"/>
<circle cx="492.5" cy="262.5" r="1.65"/>
<circle cx="500.4" cy="262.5" r="1.65"/>
<circle cx="505.6" cy="265.9" r="1.65"/>
<circle cx="459.5" cy="265.9" r="1.65"/>
<circle cx="484.6" cy="265.9" r="1.65"/>
<circle cx="464.5" cy="269.5" r="1.65"/>
<circle cx="486.9" cy="269.5" r="1.65"/>
<circle cx="508.0" cy="273.0" r="1.65"/>
<circle cx="441.7" cy="276.4" r="1.65"/>
<circle cx="472.4" cy="276.4" r="1.65"/>
<circle cx="491.5" cy="276.4" r="1.65"/>
<circle cx="460.8" cy="280.0" r="1.65"/>
<circle cx="478.6" cy="280.0" r="1.65"/>
<circle cx="502.7" cy="280.0" r="1.65"/>
<circle cx="460.8" cy="283.4" r="1.65"/>
<circle cx="484.3" cy="287.0" r="1.65"/>
<circle cx="448.1" cy="290.4" r="1.65"/>
<circle cx="469.8" cy="290.4" r="1.65"/>
<circle cx="462.6" cy="297.4" r="1.65"/>
<circle cx="495.1" cy="297.4" r="1.65"/>
<circle cx="503.5" cy="297.4" r="1.65"/>
<circle cx="482.2" cy="300.9" r="1.65"/>
<circle cx="485.9" cy="304.4" r="1.65"/>
<circle cx="465.9" cy="311.4" r="1.65"/>
<circle cx="484.6" cy="311.4" r="1.65"/>
<circle cx="499.4" cy="311.4" r="1.65"/>
<circle cx="523.6" cy="262.5" r="1.65"/>
<circle cx="530.8" cy="262.5" r="1.65"/>
<circle cx="537.4" cy="262.5" r="1.65"/>
<circle cx="555.9" cy="262.5" r="1.65"/>
<circle cx="566.0" cy="262.5" r="1.65"/>
<circle cx="588.1" cy="262.5" r="1.65"/>
<circle cx="529.5" cy="265.9" r="1.65"/>
<circle cx="569.0" cy="265.9" r="1.65"/>
<circle cx="518.3" cy="269.5" r="1.65"/>
<circle cx="519.9" cy="269.5" r="1.65"/>
<circle cx="527.1" cy="269.5" r="1.65"/>
<circle cx="531.8" cy="269.5" r="1.65"/>
<circle cx="551.3" cy="269.5" r="1.65"/>
<circle cx="552.8" cy="269.5" r="1.65"/>
<circle cx="572.0" cy="269.5" r="1.65"/>
<circle cx="517.9" cy="273.0" r="1.65"/>
<circle cx="537.4" cy="273.0" r="1.65"/>
<circle cx="542.7" cy="273.0" r="1.65"/>
<circle cx="564.7" cy="273.0" r="1.65"/>
<circle cx="579.2" cy="276.4" r="1.65"/>
<circle cx="581.8" cy="276.4" r="1.65"/>
<circle cx="557.9" cy="280.0" r="1.65"/>
<circle cx="533.1" cy="283.4" r="1.65"/>
<circle cx="535.5" cy="283.4" r="1.65"/>
<circle cx="537.0" cy="283.4" r="1.65"/>
<circle cx="557.2" cy="283.4" r="1.65"/>
<circle cx="572.0" cy="283.4" r="1.65"/>
<circle cx="533.7" cy="287.0" r="1.65"/>
<circle cx="604.9" cy="287.0" r="1.65"/>
<circle cx="581.2" cy="290.4" r="1.65"/>
<circle cx="595.0" cy="290.4" r="1.65"/>
<circle cx="586.4" cy="297.4" r="1.65"/>
<circle cx="518.6" cy="297.4" r="1.65"/>
<circle cx="520.6" cy="297.4" r="1.65"/>
<circle cx="529.1" cy="300.9" r="1.65"/>
<circle cx="553.9" cy="300.9" r="1.65"/>
<circle cx="517.5" cy="304.4" r="1.65"/>
<circle cx="562.7" cy="304.4" r="1.65"/>
<circle cx="576.3" cy="304.4" r="1.65"/>
<circle cx="555.2" cy="307.9" r="1.65"/>
<circle cx="523.2" cy="311.4" r="1.65"/>
<circle cx="626.4" cy="262.5" r="1.65"/>
<circle cx="631.0" cy="262.5" r="1.65"/>
<circle cx="634.6" cy="262.5" r="1.65"/>
<circle cx="645.9" cy="262.5" r="1.65"/>
<circle cx="664.9" cy="262.5" r="1.65"/>
<circle cx="624.0" cy="265.9" r="1.65"/>
<circle cx="634.0" cy="265.9" r="1.65"/>
<circle cx="670.5" cy="265.9" r="1.65"/>
<circle cx="609.3" cy="269.5" r="1.65"/>
<circle cx="620.9" cy="269.5" r="1.65"/>
<circle cx="625.7" cy="269.5" r="1.65"/>
<circle cx="628.4" cy="269.5" r="1.65"/>
<circle cx="647.9" cy="269.5" r="1.65"/>
<circle cx="685.4" cy="269.5" r="1.65"/>
<circle cx="694.0" cy="269.5" r="1.65"/>
<circle cx="626.4" cy="273.0" r="1.65"/>
<circle cx="615.9" cy="276.4" r="1.65"/>
<circle cx="623.5" cy="276.4" r="1.65"/>
<circle cx="626.4" cy="276.4" r="1.65"/>
<circle cx="637.6" cy="276.4" r="1.65"/>
<circle cx="649.2" cy="276.4" r="1.65"/>
<circle cx="667.2" cy="276.4" r="1.65"/>
<circle cx="679.8" cy="276.4" r="1.65"/>
<circle cx="689.0" cy="276.4" r="1.65"/>
<circle cx="631.4" cy="280.0" r="1.65"/>
<circle cx="638.3" cy="280.0" r="1.65"/>
<circle cx="669.2" cy="280.0" r="1.65"/>
<circle cx="671.2" cy="280.0" r="1.65"/>
<circle cx="676.2" cy="280.0" r="1.65"/>
<circle cx="611.2" cy="283.4" r="1.65"/>
<circle cx="642.2" cy="283.4" r="1.65"/>
<circle cx="651.2" cy="283.4" r="1.65"/>
<circle cx="679.1" cy="287.0" r="1.65"/>
<circle cx="608.6" cy="290.4" r="1.65"/>
<circle cx="617.6" cy="290.4" r="1.65"/>
<circle cx="671.9" cy="290.4" r="1.65"/>
<circle cx="676.5" cy="290.4" r="1.65"/>
<circle cx="674.9" cy="294.0" r="1.65"/>
<circle cx="692.0" cy="294.0" r="1.65"/>
<circle cx="618.2" cy="297.4" r="1.65"/>
<circle cx="639.3" cy="297.4" r="1.65"/>
<circle cx="673.6" cy="297.4" r="1.65"/>
<circle cx="697.8" cy="297.4" r="1.65"/>
<circle cx="666.6" cy="300.9" r="1.65"/>
<circle cx="612.6" cy="304.4" r="1.65"/>
<circle cx="668.3" cy="304.4" r="1.65"/>
<circle cx="672.5" cy="304.4" r="1.65"/>
<circle cx="695.3" cy="304.4" r="1.65"/>
<circle cx="609.5" cy="311.4" r="1.65"/>
<circle cx="644.6" cy="311.4" r="1.65"/>
<circle cx="705.0" cy="272.6" r="1.65"/>
<circle cx="708.4" cy="276.0" r="1.65"/>
<circle cx="718.2" cy="279.7" r="1.65"/>
<circle cx="727.6" cy="265.7" r="1.65"/>
<circle cx="734.9" cy="268.9" r="1.65"/>
<circle cx="505.6" cy="314.3" r="1.65"/>
<circle cx="469.0" cy="317.9" r="1.65"/>
<circle cx="505.6" cy="317.9" r="1.65"/>
<circle cx="452.3" cy="324.7" r="1.65"/>
<circle cx="500.4" cy="324.7" r="1.65"/>
<circle cx="503.9" cy="332.0" r="1.65"/>
<circle cx="491.1" cy="335.4" r="1.65"/>
<circle cx="508.9" cy="335.4" r="1.65"/>
<circle cx="512.2" cy="335.4" r="1.65"/>
<circle cx="467.4" cy="338.8" r="1.65"/>
<circle cx="475.7" cy="338.8" r="1.65"/>
<circle cx="481.0" cy="342.3" r="1.65"/>
<circle cx="503.7" cy="345.8" r="1.65"/>
<circle cx="459.3" cy="349.2" r="1.65"/>
<circle cx="446.1" cy="352.8" r="1.65"/>
<circle cx="476.0" cy="352.8" r="1.65"/>
<circle cx="488.2" cy="352.8" r="1.65"/>
<circle cx="492.5" cy="352.8" r="1.65"/>
<circle cx="525.2" cy="314.3" r="1.65"/>
<circle cx="527.5" cy="314.3" r="1.65"/>
<circle cx="526.2" cy="317.9" r="1.65"/>
<circle cx="533.7" cy="317.9" r="1.65"/>
<circle cx="585.1" cy="317.9" r="1.65"/>
<circle cx="594.4" cy="317.9" r="1.65"/>
<circle cx="519.2" cy="332.0" r="1.65"/>
<circle cx="539.0" cy="332.0" r="1.65"/>
<circle cx="560.5" cy="335.4" r="1.65"/>
<circle cx="589.1" cy="349.2" r="1.65"/>
<circle cx="600.0" cy="352.8" r="1.65"/>
<circle cx="620.9" cy="317.9" r="1.65"/>
<circle cx="627.5" cy="317.9" r="1.65"/>
<circle cx="644.2" cy="317.9" r="1.65"/>
<circle cx="649.9" cy="317.9" r="1.65"/>
<circle cx="654.1" cy="317.9" r="1.65"/>
<circle cx="656.7" cy="317.9" r="1.65"/>
<circle cx="670.9" cy="317.9" r="1.65"/>
<circle cx="639.8" cy="321.2" r="1.65"/>
<circle cx="654.3" cy="324.7" r="1.65"/>
<circle cx="660.0" cy="324.7" r="1.65"/>
<circle cx="663.0" cy="324.7" r="1.65"/>
<circle cx="690.7" cy="324.7" r="1.65"/>
<circle cx="697.3" cy="324.7" r="1.65"/>
<circle cx="679.1" cy="332.0" r="1.65"/>
<circle cx="676.2" cy="335.4" r="1.65"/>
<circle cx="648.8" cy="338.8" r="1.65"/>
<circle cx="650.4" cy="345.8" r="1.65"/>
<circle cx="681.5" cy="349.2" r="1.65"/>
<circle cx="692.5" cy="352.8" r="1.65"/>
<circle cx="568.2" cy="94.8" r="1.65"/>
<circle cx="567.0" cy="116.0" r="1.65"/>
<circle cx="575.0" cy="123.0" r="1.65"/>
<circle cx="590.0" cy="133.0" r="1.65"/>
<circle cx="602.0" cy="129.8" r="1.65"/>
<circle cx="574.2" cy="143.5" r="1.65"/>
<circle cx="576.2" cy="147.2" r="1.65"/>
<circle cx="593.0" cy="143.5" r="1.65"/>
<circle cx="603.8" cy="143.5" r="1.65"/>
<circle cx="542.5" cy="150.5" r="1.65"/>
<circle cx="544.2" cy="150.5" r="1.65"/>
<circle cx="560.5" cy="150.5" r="1.65"/>
<circle cx="550.5" cy="157.8" r="1.65"/>
<circle cx="566.2" cy="157.8" r="1.65"/>
<circle cx="572.5" cy="157.8" r="1.65"/>
<circle cx="587.0" cy="161.0" r="1.65"/>
<circle cx="596.2" cy="161.0" r="1.65"/>
<circle cx="609.5" cy="123.0" r="1.65"/>
<circle cx="625.0" cy="126.5" r="1.65"/>
<circle cx="623.2" cy="136.5" r="1.65"/>
<circle cx="630.8" cy="140.2" r="1.65"/>
<circle cx="650.2" cy="136.5" r="1.65"/>
<circle cx="618.2" cy="147.2" r="1.65"/>
<circle cx="640.8" cy="147.2" r="1.65"/>
<circle cx="642.0" cy="150.5" r="1.65"/>
<circle cx="675.0" cy="143.5" r="1.65"/>
<circle cx="611.5" cy="154.0" r="1.65"/>
<circle cx="617.5" cy="157.8" r="1.65"/>
<circle cx="628.2" cy="157.8" r="1.65"/>
<circle cx="629.5" cy="157.8" r="1.65"/>
<circle cx="638.2" cy="161.0" r="1.65"/>
<circle cx="652.5" cy="157.8" r="1.65"/>
<circle cx="655.8" cy="161.0" r="1.65"/>
<circle cx="95.5" cy="352.5" r="1.65"/>
<circle cx="191.9" cy="211.0" r="1.65"/>
<circle cx="195.5" cy="249.9" r="1.65"/>
<circle cx="164.3" cy="218.8" r="1.65"/>
<circle cx="159.0" cy="187.0" r="1.65"/>
<circle cx="159.0" cy="199.9" r="1.65"/>
<circle cx="583.8" cy="234.6" r="1.65"/>
<circle cx="527.5" cy="192.7" r="1.65"/>
<circle cx="590.0" cy="192.7" r="1.65"/>
<circle cx="538.4" cy="206.5" r="1.65"/>
<circle cx="525.8" cy="234.6" r="1.65"/>
<circle cx="526.2" cy="241.6" r="1.65"/>
<circle cx="546.9" cy="248.6" r="1.65"/>
<circle cx="628.8" cy="245.0" r="1.65"/>
<circle cx="670.9" cy="248.6" r="1.65"/>
<circle cx="503.7" cy="345.8" r="1.65"/>
<circle cx="603.8" cy="143.5" r="1.65"/>
</g>
<path d="M59.40,213.65 L66.03,214.54 L72.66,215.42 L79.29,216.30 L85.92,217.18 L92.55,218.06 L99.18,218.93 L105.81,219.80 L112.44,220.67 L119.07,221.53 L125.70,222.39 L132.33,223.24 L138.96,224.09 L145.59,224.92 L152.22,225.75 L158.85,226.57 L165.48,227.38 L172.11,228.17 L178.74,228.94 L185.37,229.70 L192.00,230.43 L198.63,231.14 L205.26,231.82 L211.89,232.46 L218.52,233.06 L225.15,233.61 L231.78,234.12 L238.41,234.57 L245.04,234.97 L251.67,235.31 L258.30,235.61 L264.93,235.85 L271.56,236.06 L278.19,236.23 L284.82,236.36 L291.45,236.47 L298.08,236.55 L304.71,236.61 L311.34,236.65 L317.97,236.68 L324.60,236.70 L331.23,236.71 L337.86,236.70 L344.49,236.69 L351.12,236.67 L357.75,236.65 L357.75,256.05 L351.12,255.23 L344.49,254.42 L337.86,253.61 L331.23,252.81 L324.60,252.03 L317.97,251.25 L311.34,250.48 L304.71,249.74 L298.08,249.00 L291.45,248.29 L284.82,247.61 L278.19,246.95 L271.56,246.32 L264.93,245.72 L258.30,245.17 L251.67,244.66 L245.04,244.19 L238.41,243.77 L231.78,243.40 L225.15,243.08 L218.52,242.79 L211.89,242.55 L205.26,242.34 L198.63,242.17 L192.00,242.02 L185.37,241.90 L178.74,241.80 L172.11,241.71 L165.48,241.64 L158.85,241.59 L152.22,241.54 L145.59,241.51 L138.96,241.48 L132.33,241.46 L125.70,241.45 L119.07,241.44 L112.44,241.44 L105.81,241.44 L99.18,241.45 L92.55,241.46 L85.92,241.47 L79.29,241.49 L72.66,241.51 L66.03,241.53 L59.40,241.55Z" fill="#9a9a9a" fill-opacity="0.6"/>
<line x1="59.40" y1="227.95" x2="357.75" y2="246.65" stroke="#000" stroke-width="2"/>
<path d="M439.40,298.60 L446.03,296.48 L452.66,294.36 L459.29,292.24 L465.92,290.11 L472.55,287.99 L479.18,285.86 L485.81,283.73 L492.44,281.59 L499.07,279.46 L505.70,277.32 L512.33,275.18 L518.96,273.03 L525.59,270.88 L532.22,268.73 L538.85,266.56 L545.48,264.40 L552.11,262.22 L558.74,260.04 L565.37,257.85 L572.00,255.65 L578.63,253.43 L585.26,251.21 L591.89,248.96 L598.52,246.70 L605.15,244.42 L611.78,242.11 L618.41,239.77 L625.04,237.41 L631.67,235.01 L638.30,232.57 L644.93,230.09 L651.56,227.58 L658.19,225.02 L664.82,222.42 L671.45,219.78 L678.08,217.10 L684.71,214.39 L691.34,211.64 L697.97,208.87 L704.60,206.07 L711.23,203.25 L717.86,200.41 L724.49,197.55 L731.12,194.68 L737.75,191.80 L737.75,212.90 L731.12,214.94 L724.49,216.99 L717.86,219.04 L711.23,221.09 L704.60,223.15 L697.97,225.21 L691.34,227.28 L684.71,229.35 L678.08,231.42 L671.45,233.51 L664.82,235.60 L658.19,237.70 L651.56,239.81 L644.93,241.93 L638.30,244.07 L631.67,246.23 L625.04,248.42 L618.41,250.63 L611.78,252.87 L605.15,255.15 L598.52,257.47 L591.89,259.84 L585.26,262.28 L578.63,264.77 L572.00,267.33 L565.37,269.95 L558.74,272.62 L552.11,275.36 L545.48,278.14 L538.85,280.96 L532.22,283.82 L525.59,286.71 L518.96,289.63 L512.33,292.57 L505.70,295.52 L499.07,298.49 L492.44,301.47 L485.81,304.46 L479.18,307.47 L472.55,310.47 L465.92,313.49 L459.29,316.51 L452.66,319.54 L446.03,322.57 L439.40,325.60Z" fill="#9a9a9a" fill-opacity="0.6"/>
<line x1="439.40" y1="313.8" x2="737.75" y2="199.3" stroke="#000" stroke-width="2"/>
<g style="opacity:0.999;will-change:transform">
<text x="38.6" y="357.70" font-size="12.4" text-anchor="end" fill="#444444" >0</text>
<text x="38.6" y="287.90" font-size="12.4" text-anchor="end" fill="#444444" >20</text>
<text x="38.6" y="218.10" font-size="12.4" text-anchor="end" fill="#444444" >40</text>
<text x="38.6" y="148.30" font-size="12.4" text-anchor="end" fill="#444444" >60</text>
<text x="38.6" y="78.50" font-size="12.4" text-anchor="end" fill="#444444" >80</text>
<text x="59.40" y="381.5" font-size="12.4" text-anchor="middle" fill="#444444" >0</text>
<text x="125.70" y="381.5" font-size="12.4" text-anchor="middle" fill="#444444" >5</text>
<text x="192.00" y="381.5" font-size="12.4" text-anchor="middle" fill="#444444" >10</text>
<text x="258.30" y="381.5" font-size="12.4" text-anchor="middle" fill="#444444" >15</text>
<text x="324.60" y="381.5" font-size="12.4" text-anchor="middle" fill="#444444" >20</text>
<text x="418.6" y="357.70" font-size="12.4" text-anchor="end" fill="#444444" >0</text>
<text x="418.6" y="287.90" font-size="12.4" text-anchor="end" fill="#444444" >10</text>
<text x="418.6" y="218.10" font-size="12.4" text-anchor="end" fill="#444444" >20</text>
<text x="418.6" y="148.30" font-size="12.4" text-anchor="end" fill="#444444" >30</text>
<text x="418.6" y="78.50" font-size="12.4" text-anchor="end" fill="#444444" >40</text>
<text x="439.40" y="381.5" font-size="12.4" text-anchor="middle" fill="#444444" >0</text>
<text x="505.70" y="381.5" font-size="12.4" text-anchor="middle" fill="#444444" >5</text>
<text x="572.00" y="381.5" font-size="12.4" text-anchor="middle" fill="#444444" >10</text>
<text x="638.30" y="381.5" font-size="12.4" text-anchor="middle" fill="#444444" >15</text>
<text x="704.60" y="381.5" font-size="12.4" text-anchor="middle" fill="#444444" >20</text>
<text x="44.3" y="49.3" font-size="17.2" fill="#1c1c1c">(A) SPEAR−Index</text>
<text x="424.3" y="49.3" font-size="17.2" fill="#1c1c1c">(B) EPT−Arten</text>
<text x="208.4" y="399.3" font-size="14.4" text-anchor="middle" fill="#222">Gewässertemperatur (°C)</text>
<text x="588.4" y="399.3" font-size="14.4" text-anchor="middle" fill="#222">Gewässertemperatur (°C)</text>
<text transform="translate(17.4,213.2) rotate(-90)" font-size="14.4" text-anchor="middle" fill="#222">SPEAR−Index</text>
<text transform="translate(397.4,213.4) rotate(-90)" font-size="14.6" text-anchor="middle" fill="#222">Anzahl EPT Arten</text>
</g>
</svg>
</body></html>
